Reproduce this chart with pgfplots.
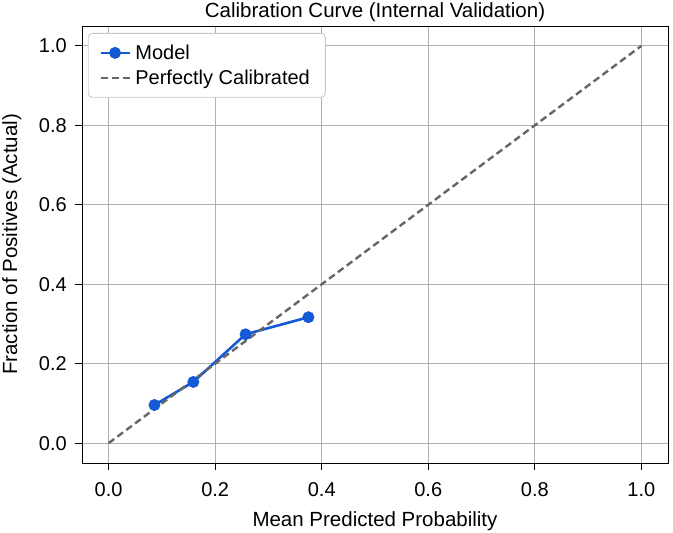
\documentclass[border=0pt]{standalone}
\usepackage{fontspec}
\setmainfont{Liberation Sans}
\usepackage{pgfplots}
\pgfplotsset{compat=1.18}
\definecolor{modelblue}{RGB}{20,90,214}
\definecolor{refgray}{RGB}{102,102,102}
\definecolor{gridgray}{RGB}{176,176,176}
\pgfplotsset{
  legmark/.style={legend image code/.code={\draw[mark repeat=2,mark phase=2,##1] plot coordinates {(0bp,0bp) (14.5bp,0bp) (29bp,0bp)};}},
  legline/.style={legend image code/.code={\draw[##1] (0bp,0bp) -- (29bp,0bp);}},
}
\begin{document}
\begin{tikzpicture}
\begin{axis}[
  at={(0,0)}, anchor=south west,
  scale only axis, width=586bp, height=437bp,
  xmin=-0.05, xmax=1.05, ymin=-0.05, ymax=1.05,
  xtick={0,0.2,0.4,0.6,0.8,1.0}, ytick={0,0.2,0.4,0.6,0.8,1.0},
  /pgf/number format/.cd, fixed, fixed zerofill, precision=1, assume math mode=true, /pgfplots/.cd,
  xtick pos=bottom, ytick pos=left, tick align=outside,
  major tick length=7bp,
  tick style={black, line width=0.8bp},
  axis line style={black, line width=0.9bp},
  grid=major, grid style={gridgray, line width=1.1bp},
  ticklabel style={font=\fontsize{20bp}{24bp}\selectfont},
  xticklabel style={inner sep=0pt, anchor=north, yshift=-12bp},
  yticklabel style={inner sep=0pt, anchor=east, xshift=-8bp},
  title={Calibration Curve (Internal Validation)},
  title style={font=\fontsize{20.5bp}{24bp}\selectfont, at={(axis description cs:0.5,1.0)}, anchor=base, inner sep=0pt, yshift=2.5bp},
  xlabel={Mean Predicted Probability},
  xlabel style={font=\fontsize{20.5bp}{24bp}\selectfont, at={(axis description cs:0.5,-0.1442)}, anchor=base, inner sep=0pt},
  ylabel={Fraction of Positives (Actual)},
  ylabel style={font=\fontsize{20.5bp}{24bp}\selectfont, at={(axis description cs:-0.1109,0.5)}, anchor=base, inner sep=0pt},
  legend style={at={(axis description cs:0.010,0.984)}, anchor=north west,
    draw=gridgray!70, rounded corners=4bp, fill=white, line width=0.8bp,
    font=\fontsize{20bp}{24bp}\selectfont, inner xsep=11bp, inner ysep=9.5bp, row sep=5bp,
    nodes={inner xsep=4.5bp}},
  legend cell align=left,
]
\addplot[color=modelblue, line width=2.6bp, mark=*, mark size=4.6bp, mark options={solid, fill=modelblue}, legmark]
  coordinates {(0.086,0.096) (0.159,0.154) (0.257,0.274) (0.375,0.317)};
\addlegendentry{Model}
\addplot[color=refgray, line width=2.4bp, dash pattern=on 7bp off 4bp, legline]
  coordinates {(0,0) (1,1)};
\addlegendentry{Perfectly Calibrated}
\end{axis}
\pgfresetboundingbox
\path[use as bounding box] (-82bp,-70bp) rectangle (591bp,463bp);
\end{tikzpicture}
\end{document}
